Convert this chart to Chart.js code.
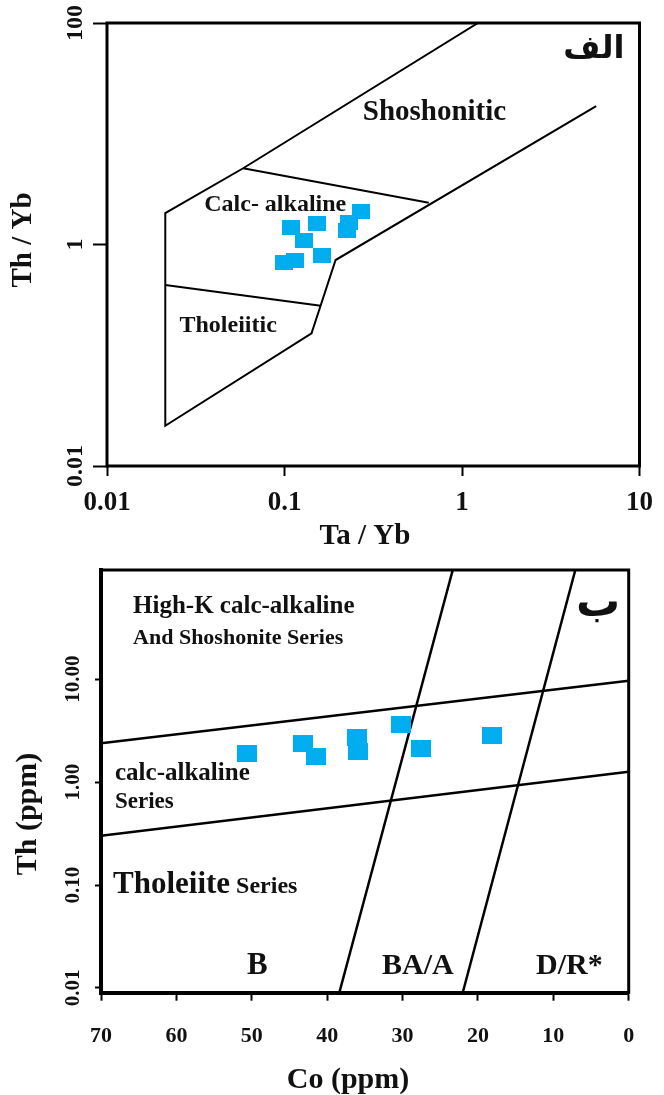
<!DOCTYPE html>
<html>
<head>
<meta charset="utf-8">
<script src="https://cdn.jsdelivr.net/npm/chart.js@4.4.1/dist/chart.umd.min.js"></script>
<style>
  html, body { margin: 0; padding: 0; background: #fff; }
  #wrap { position: relative; width: 664px; height: 1095px; }
  canvas { position: absolute; left: 0; }
  #taYbChart { top: 0; }
  #coThChart { top: 555px; }
</style>
</head>
<body>
<div id="wrap">
  <canvas id="taYbChart" width="664" height="555"></canvas>
  <canvas id="coThChart" width="664" height="540"></canvas>
</div>
<script>
// Th/Yb vs Ta/Yb samples
const sampleTaYb = [0.109, 0.153, 0.129, 0.099, 0.115, 0.163, 0.225, 0.231, 0.270];
const sampleThYb = [1.42, 1.56, 1.08, 0.69, 0.71, 0.79, 1.35, 1.58, 1.99];

// field boundaries, Ta/Yb diagram
const outlineTa = [1.23, 0.0585, 0.0213, 0.0213, 0.142, 0.194, 5.70];
const outlineTh = [100, 4.88, 1.92, 0.0231, 0.158, 0.724, 17.8];
const shoshDivTa = [0.0585, 0.650];
const shoshDivTh = [4.88, 2.38];
const tholDivTa = [0.0213, 0.160];
const tholDivTh = [0.431, 0.280];

const taTicks = [0.01, 0.1, 1, 10];
const thYbTicks = [0.01, 1, 100];

// Th vs Co samples
const sampleCo = [50.6, 43.2, 41.5, 36.0, 35.9, 30.2, 27.5, 18.1];
const sampleTh = [1.90, 2.38, 1.76, 2.74, 1.97, 3.64, 2.10, 2.86];

// field boundaries, Co diagram
const coEnds = [70, 0];
const upperDivTh = [2.38, 9.66];
const lowerDivTh = [0.301, 1.26];
const thEnds = [115, 0.009];
const baDivCo = [23.34, 38.39];
const drDivCo = [7.08, 22.02];

const coTicks = [70, 60, 50, 40, 30, 20, 10, 0];
const thTicks = [0.01, 0.1, 1, 10];

const SAMPLE_COLOR = '#00aeef';
const SERIF = '"Liberation Serif", "Times New Roman", serif';

Chart.defaults.font.family = SERIF;
Chart.defaults.font.weight = 'bold';
Chart.defaults.color = '#111';
Chart.defaults.animation = false;

const pts = (xs, ys) => xs.map((v, i) => ({ x: v, y: ys[i] }));

function squareMarker(w, h) {
  const c = document.createElement('canvas');
  c.width = w;
  c.height = h;
  const g = c.getContext('2d');
  g.fillStyle = SAMPLE_COLOR;
  g.fillRect(0, 0, w, h);
  return c;
}

function boundary(data, width) {
  return {
    data,
    showLine: true,
    borderColor: '#000',
    borderWidth: width,
    pointRadius: 0,
    tension: 0,
    fill: false
  };
}

// box around the plotting area
const framePlugin = {
  id: 'frame',
  afterDatasetsDraw(chart, args, opts) {
    const { ctx, chartArea: a } = chart;
    ctx.save();
    ctx.strokeStyle = '#000';
    ctx.lineWidth = opts.width || 3;
    ctx.strokeRect(a.left, a.top, a.right - a.left, a.bottom - a.top);
    ctx.restore();
  }
};

// field names at data coordinates, axis captions at canvas pixels
const fieldLabels = {
  id: 'fieldLabels',
  afterDatasetsDraw(chart, args, opts) {
    const { ctx, scales: { x, y } } = chart;
    (opts.items || []).forEach((item) => {
      let px = x.getPixelForValue(item.x);
      const py = y.getPixelForValue(item.y);
      ctx.save();
      ctx.fillStyle = '#111';
      ctx.textAlign = item.align || 'left';
      ctx.textBaseline = item.baseline || 'alphabetic';
      item.parts.forEach(([text, font]) => {
        ctx.font = font;
        ctx.fillText(text, px, py);
        px += ctx.measureText(text).width;
      });
      ctx.restore();
    });
    (opts.captions || []).forEach((c) => {
      ctx.save();
      ctx.fillStyle = '#111';
      ctx.font = c.font;
      ctx.textAlign = 'center';
      ctx.textBaseline = 'middle';
      ctx.translate(c.x, c.y);
      ctx.rotate((c.rotate || 0) * Math.PI / 180);
      ctx.fillText(c.text, 0, 0);
      ctx.restore();
    });
  }
};

const bold = (size) => `bold ${size}px ${SERIF}`;
const arabic = (size) => `bold ${size}px "DejaVu Sans", sans-serif`;

function logAxis(min, max, ticks, extra) {
  return Object.assign({
    type: 'logarithmic',
    min,
    max,
    afterBuildTicks: (s) => { s.ticks = ticks.map((v) => ({ value: v })); },
    border: { display: false },
  }, extra);
}

new Chart(document.getElementById('taYbChart'), {
  type: 'scatter',
  data: {
    datasets: [
      {
        data: pts(sampleTaYb, sampleThYb),
        pointStyle: squareMarker(18, 15),
        pointRadius: 9,
        showLine: false
      },
      boundary(pts(outlineTa, outlineTh), 2),
      boundary(pts(shoshDivTa, shoshDivTh), 2),
      boundary(pts(tholDivTa, tholDivTh), 2)
    ]
  },
  options: {
    responsive: false,
    layout: { padding: { top: 23, right: 20, left: 0, bottom: 0 } },
    plugins: {
      legend: { display: false },
      tooltip: { enabled: false },
      frame: { width: 3 },
      fieldLabels: {
        items: [
          { x: 0.276, y: 13.3, parts: [['Shoshonitic', bold(29)]] },
          { x: 0.0353, y: 2.01, parts: [['Calc- alkaline', bold(24)]] },
          { x: 0.0256, y: 0.163, parts: [['Tholeiitic', bold(24)]] },
          { x: 5.53, y: 57, align: 'center', baseline: 'middle', parts: [['الف', arabic(32)]] }
        ],
        captions: [
          { text: 'Ta / Yb', font: bold(29), x: 365, y: 537 },
          { text: 'Th / Yb', font: bold(29), x: 24, y: 240, rotate: -90 }
        ]
      }
    },
    scales: {
      x: logAxis(0.01, 10, taTicks, {
        afterFit: (s) => { s.height = 89; },
        grid: { drawOnChartArea: false, tickLength: 10, tickColor: '#000', tickWidth: 2 },
        ticks: { font: { size: 27 }, padding: 11, maxRotation: 0, callback: (v) => String(v) }
      }),
      y: logAxis(0.01, 100, thYbTicks, {
        afterFit: (s) => { s.width = 107; },
        grid: { drawOnChartArea: false, tickLength: 14, tickColor: '#000', tickWidth: 2 },
        ticks: { font: { size: 24 }, minRotation: 90, maxRotation: 90, crossAlign: 'center', padding: -4, callback: (v) => String(v) }
      })
    }
  },
  plugins: [framePlugin, fieldLabels]
});

new Chart(document.getElementById('coThChart'), {
  type: 'scatter',
  data: {
    datasets: [
      {
        data: pts(sampleCo, sampleTh),
        pointStyle: squareMarker(20, 17),
        pointRadius: 10,
        showLine: false
      },
      boundary(pts(coEnds, upperDivTh), 2.5),
      boundary(pts(coEnds, lowerDivTh), 2.5),
      boundary(pts(baDivCo, thEnds), 2.5),
      boundary(pts(drDivCo, thEnds), 2.5)
    ]
  },
  options: {
    responsive: false,
    layout: { padding: { top: 15, right: 35.3, left: 0, bottom: 0 } },
    plugins: {
      legend: { display: false },
      tooltip: { enabled: false },
      frame: { width: 3 },
      fieldLabels: {
        items: [
          { x: 65.75, y: 44, parts: [['High-K calc-alkaline', bold(25)]] },
          { x: 65.75, y: 22, parts: [['And Shoshonite Series', bold(22)]] },
          { x: 68.14, y: 1.047, parts: [['calc-alkaline', bold(25)]] },
          { x: 68.14, y: 0.555, parts: [['Series', bold(23)]] },
          { x: 68.41, y: 0.0841, parts: [['Tholeiite', bold(31)], [' Series', bold(24)]] },
          { x: 50.63, y: 0.01364, parts: [['B', bold(31)]] },
          { x: 32.72, y: 0.01364, parts: [['BA/A', bold(30)]] },
          { x: 12.29, y: 0.01364, parts: [['D/R*', bold(30)]] },
          { x: 4.07, y: 52.6, align: 'center', baseline: 'middle', parts: [['ب', arabic(44)]] }
        ],
        captions: [
          { text: 'Co (ppm)', font: bold(30), x: 348, y: 525 },
          { text: 'Th (ppm)', font: bold(30), x: 28, y: 259, rotate: -90 }
        ]
      }
    },
    scales: {
      x: {
        type: 'linear',
        min: 0,
        max: 70,
        reverse: true,
        afterBuildTicks: (s) => { s.ticks = coTicks.map((v) => ({ value: v })); },
        afterFit: (s) => { s.height = 102.3; },
        border: { display: true, color: '#000', width: 4 },
        grid: { drawOnChartArea: false, tickLength: 8, tickColor: '#000', tickWidth: 2 },
        ticks: { font: { size: 22 }, padding: 22, maxRotation: 0 }
      },
      y: logAxis(0.009, 115, thTicks, {
        afterFit: (s) => { s.width = 101; },
        border: { display: true, color: '#000', width: 4 },
        grid: { drawOnChartArea: false, tickLength: 6, tickColor: '#000', tickWidth: 2 },
        ticks: { font: { size: 21 }, minRotation: 90, maxRotation: 90, crossAlign: 'center', padding: -2, callback: (v) => v.toFixed(2) }
      })
    }
  },
  plugins: [framePlugin, fieldLabels]
});
</script>
</body>
</html>
